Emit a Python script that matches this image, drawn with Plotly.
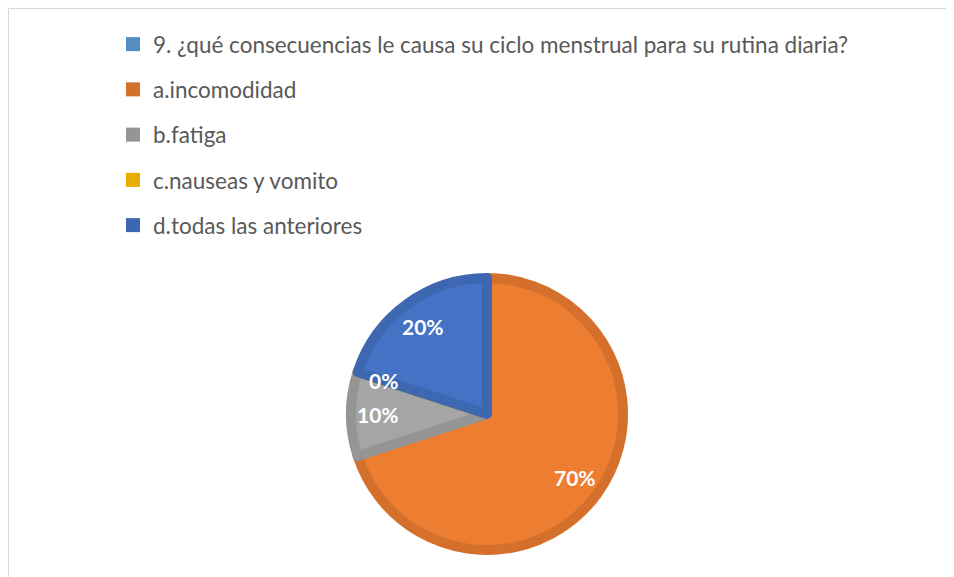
import math
import plotly.graph_objects as go

# ---- data ----
categories = [
    "9. ¿qué consecuencias le causa su ciclo menstrual para su rutina diaria?",
    "a.incomodidad",
    "b.fatiga",
    "c.nauseas y vomito",
    "d.todas las anteriores",
]
values = [0, 70, 10, 0, 20]           # percent; first row is the header (blank)
show_label = [False, True, True, True, True]

fill_colors = ["#5B9BD5", "#ED7D31", "#A5A5A5", "#FFC000", "#4472C4"]
edge_colors = ["#548DC2", "#D4702C", "#959595", "#E6AC00", "#3D67B1"]

# ---- geometry (pixels, page coords; page has an 8px body margin) ----
OFF = 8
W, H = 946, 569
cx, cy = 487 - OFF, 414 - OFF     # pie centre in figure coords
R_out = 141
stroke = 10
R = R_out - stroke / 2

fig = go.Figure()

fig.add_trace(go.Pie(
    labels=categories,
    values=values,
    sort=False,
    direction="clockwise",
    rotation=0,
    marker=dict(colors=fill_colors, line=dict(color=edge_colors, width=stroke)),
    textinfo="none",
    hoverinfo="label+percent",
    showlegend=False,
    domain=dict(x=[(cx - R) / W, (cx + R) / W],
                y=[(H - cy - R) / H, (H - cy + R) / H]),
))

# legend entries (one per category)
for name, col in zip(categories, edge_colors):
    fig.add_trace(go.Scatter(
        x=[None], y=[None], mode="markers", name=name, legendgroup=name,
        marker=dict(symbol="square", size=14, color=col),
    ))

# percentage labels, placed from the cumulative values
total = sum(values)
cum = 0
annotations = []
label_r = 0.77 * R_out
for v, show in zip(values, show_label):
    mid = (cum + v / 2) / total * 2 * math.pi
    cum += v
    if not show:
        continue
    px = cx + label_r * math.sin(mid)
    py = cy - label_r * math.cos(mid)
    annotations.append(dict(
        x=px / W, y=1 - py / H, xref="paper", yref="paper",
        xanchor="center", yanchor="middle",
        text=f"{round(v / total * 100)}%", showarrow=False,
        font=dict(family="Lato", size=21, color="white", weight="bold"),
    ))

fig.update_layout(
    width=W, height=H,
    margin=dict(l=0, r=0, t=0, b=0),
    paper_bgcolor="white", plot_bgcolor="white",
    xaxis=dict(visible=False), yaxis=dict(visible=False),
    font=dict(family="Lato", size=22.5, color="#595959"),
    legend=dict(
        x=(113 - OFF) / W, y=1 - (23 - OFF) / H, xanchor="left", yanchor="top",
        tracegroupgap=13, font=dict(family="Lato", size=22.5, color="#595959"),
        bgcolor="rgba(0,0,0,0)",
    ),
    annotations=annotations,
    shapes=[dict(type="rect", xref="paper", yref="paper",
                 x0=0.5 / W, x1=1.05, y0=-0.05, y1=1 - 0.5 / H,
                 line=dict(color="#D9D9D9", width=1), layer="below")],
)

fig.write_html("out.html")
